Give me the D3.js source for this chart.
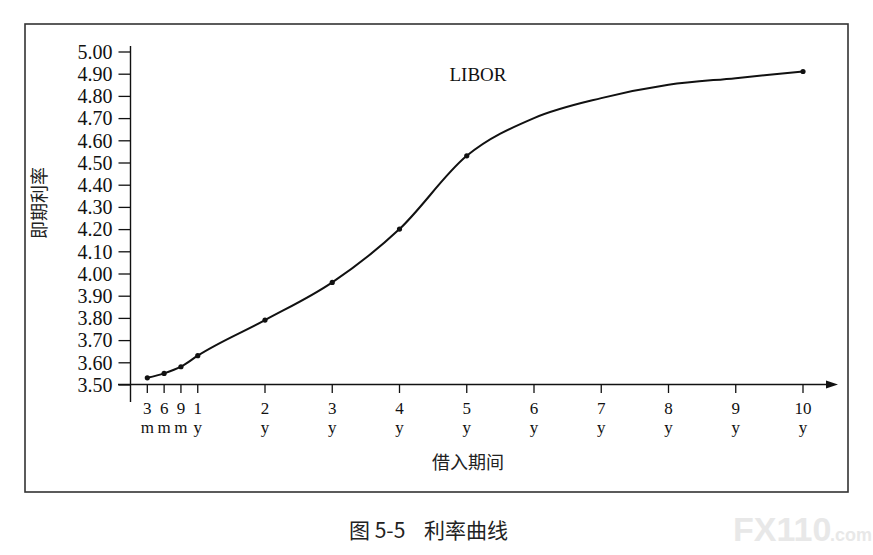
<!DOCTYPE html>
<html><head><meta charset="utf-8">
<script src="https://cdn.jsdelivr.net/npm/d3@7"></script>
<style>body{margin:0;background:#fff;}svg{display:block;}</style>
</head><body>
<svg id="c" width="873" height="555"></svg>
<script>
// Data
const yTicks = [3.50,3.60,3.70,3.80,3.90,4.00,4.10,4.20,4.30,4.40,4.50,4.60,4.70,4.80,4.90,5.00];
const xTickYears = [0.25,0.5,0.75,1,2,3,4,5,6,7,8,9,10];
const xTickNums  = ["3","6","9","1","2","3","4","5","6","7","8","9","10"];
const xTickUnits = ["m","m","m","y","y","y","y","y","y","y","y","y","y"];
// marked observations
const markYears = [0.25,0.5,0.75,1,2,3,4,5,10];
const markRates = [3.53,3.55,3.58,3.63,3.79,3.96,4.20,4.53,4.91];
// unmarked points
const curveYears = [0.25,0.5,0.75,1,2,3,4,5,6,7,8,9,10];
const curveRates = [3.53,3.55,3.58,3.63,3.79,3.96,4.20,4.53,4.70,4.79,4.85,4.88,4.91];

const svg = d3.select("#c");
const x = d3.scaleLinear().domain([0,10]).range([130.5,803]);
const y = d3.scaleLinear().domain([3.5,5.0]).range([384.5,51.5]);
const serif = "'Liberation Serif','DejaVu Serif',serif";
const cjk = "'Noto Sans CJK SC','Noto Sans',sans-serif";

// frame
svg.append("rect").attr("x",25).attr("y",24).attr("width",823).attr("height",468)
  .attr("fill","none").attr("stroke","#333").attr("stroke-width",1.6);

// y axis
const ya = d3.axisLeft(y).tickValues(yTicks).tickFormat(d3.format(".2f")).tickSize(12).tickSizeOuter(0);
const gy = svg.append("g").attr("transform","translate(130.5,0)").call(ya);
gy.select(".domain").remove();
gy.selectAll(".tick line").attr("stroke","#111").attr("stroke-width",1.3);
gy.selectAll(".tick text").attr("font-family",serif).attr("font-size",20).attr("fill","#111").attr("x",-18).attr("dy","0.34em");
svg.append("line").attr("x1",130.5).attr("x2",130.5).attr("y1",46).attr("y2",402).attr("stroke","#111").attr("stroke-width",1.4);

// x axis
svg.append("line").attr("x1",118).attr("x2",828).attr("y1",384.5).attr("y2",384.5).attr("stroke","#111").attr("stroke-width",1.4);
svg.append("path").attr("d","M826,380.5 L838,384.5 L826,388.5 Z").attr("fill","#111");
const gx = svg.append("g");
const tk = gx.selectAll("g").data(xTickYears).join("g").attr("transform",d=>`translate(${x(d)},0)`);
tk.append("line").attr("y1",384.5).attr("y2",393).attr("stroke","#111").attr("stroke-width",1.3);
tk.append("text").attr("y",414).attr("text-anchor","middle").attr("font-family",serif).attr("font-size",17).attr("fill","#111").text((d,i)=>xTickNums[i]);
tk.append("text").attr("y",433).attr("text-anchor","middle").attr("font-family",serif).attr("font-size",17).attr("fill","#111").text((d,i)=>xTickUnits[i]);

// curve
const pts = curveYears.map((d,i)=>[d,curveRates[i]]);
const line = d3.line().x(d=>x(d[0])).y(d=>y(d[1])).curve(d3.curveMonotoneX);
svg.append("path").attr("d",line(pts)).attr("fill","none").attr("stroke","#111").attr("stroke-width",2);
svg.selectAll("circle.m").data(markYears).join("circle").attr("class","m")
  .attr("cx",d=>x(d)).attr("cy",(d,i)=>y(markRates[i])).attr("r",2.6).attr("fill","#111");

// labels
svg.append("text").attr("x",478).attr("y",81).attr("text-anchor","middle").attr("font-family",serif).attr("font-size",19).attr("fill","#111").text("LIBOR");
svg.append("text").attr("transform","translate(46,203) rotate(-90)").attr("text-anchor","middle").attr("font-family",cjk).attr("font-size",18).attr("fill","#222").text("即期利率");
svg.append("text").attr("x",468).attr("y",469).attr("text-anchor","middle").attr("font-family",cjk).attr("font-size",18).attr("fill","#222").text("借入期间");
svg.append("text").attr("x",349).attr("y",538).attr("font-family",cjk).attr("font-size",21).attr("fill","#222")
  .attr("xml:space","preserve").style("white-space","pre").text("图 5-5    利率曲线");
svg.append("text").attr("x",733).attr("y",541).attr("font-family","'Liberation Sans',sans-serif").attr("font-weight","bold").attr("font-size",34).attr("fill","#e8e8e8").text("FX110");
svg.append("text").attr("x",830).attr("y",541).attr("font-family","'Liberation Sans',sans-serif").attr("font-weight","bold").attr("font-size",18).attr("fill","#e8e8e8").text(".com");
</script>
</body></html>
